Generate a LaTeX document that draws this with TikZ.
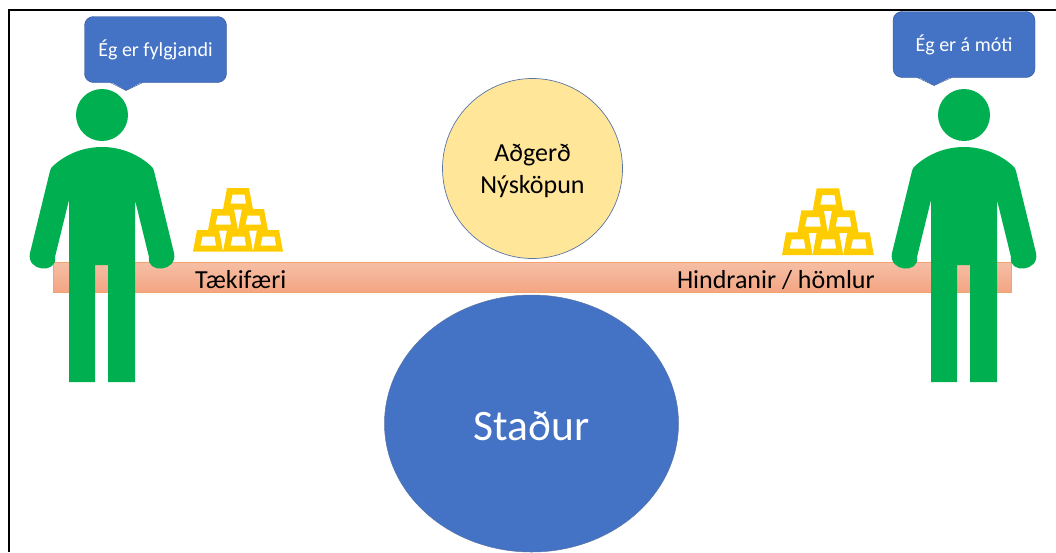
\documentclass[tikz,border=0pt]{standalone}
\usepackage{fontspec}
\setmainfont{Carlito}
\usetikzlibrary{shapes.geometric}
\definecolor{figgreen}{HTML}{00B050}
\definecolor{bubbleblue}{HTML}{4472C4}
\definecolor{bubbleedge}{HTML}{2F528F}
\definecolor{goldbar}{HTML}{FFCC00}
\definecolor{boardtop}{HTML}{F5BFA6}
\definecolor{boardbottom}{HTML}{F4A582}
\definecolor{boardedge}{HTML}{F4A26E}
\definecolor{actionfill}{HTML}{FFE699}
\tikzset{
    bubble/.style={draw=bubbleedge,fill=bubbleblue,rounded corners=9pt,minimum width=142pt,minimum height=66pt,inner sep=0pt},
    bubbletext/.style={text=white,font=\fontsize{20}{22}\selectfont,inner sep=0pt,anchor=base},
    boardlabel/.style={font=\fontsize{26}{28}\selectfont,inner sep=0pt},
    person/.pic={
        \fill[figgreen] (0,-32) circle (26);
        \fill[figgreen] (0,0) .. controls (-20,0) and (-37,8) .. (-49,19) .. controls (-50.5,20) and (-51.5,22) .. (-52,24) -- (-72,106) .. controls (-76,125) and (-44,127) .. (-47,110) -- (-33,53) -- (-33,235) -- (-7,235) -- (-7,118) -- (6,118) -- (6,235) -- (33,235) -- (33,53) -- (47,110) .. controls (44,127) and (76,125) .. (72,106) -- (52,24) .. controls (51.5,22) and (50.5,20) .. (49,19) .. controls (37,8) and (20,0) .. (0,0) -- cycle;
    },
    goldstack/.pic={
        \foreach \x/\y in {0/0,30/0,60/0,15/21,45/21,30/42}{
            \fill[goldbar,even odd rule] (\x,-\y) -- (\x+30,-\y) -- (\x+26,-\y-21.5) -- (\x+4,-\y-21.5) -- cycle
                (\x+7.5,-\y-6) -- (\x+23,-\y-6) -- (\x+21.5,-\y-15) -- (\x+9.5,-\y-15) -- cycle;
        }
    }
}

\begin{document}
\begin{tikzpicture}[x=1pt,y=-1pt]
    \useasboundingbox (0,0) rectangle (1056,552);
    \clip (0,0) rectangle (1056,552);
    \draw[line width=2pt] (8.5,552) -- (8.5,10) -- (1056,10);
    % board
    \node[draw=boardedge,top color=boardtop,bottom color=boardbottom,minimum width=958pt,minimum height=30pt,inner sep=0pt,line width=.5pt] (board) at (532,277) {};
    \node[boardlabel,anchor=base west] (gain) at (195,288) {Tækifæri};
    \node[boardlabel,anchor=base east] (block) at (875,288) {Hindranir / hömlur};
    % circles
    \node[circle,draw=bubbleedge!80,fill=actionfill,minimum size=180pt,inner sep=0pt,line width=.7pt] (action) at (532.5,168.5) {};
    \node[align=center,inner sep=0pt,font=\fontsize{26}{32}\selectfont,yshift=-2.5pt] (actiontext) at (action) {Aðgerð\\Nýsköpun};
    \node[ellipse,draw=bubbleedge!80,fill=bubbleblue,minimum width=294pt,minimum height=257pt,inner sep=0pt,line width=.5pt] (place) at (531.5,423.5) {};
    \node[text=white,font=\fontsize{43.5}{46}\selectfont,inner sep=0pt,anchor=base] (placename) at (531.5,440) {Staður};
    % people
    \pic at (102,147) {person};
    \pic at (964,147) {person};
    % gold
    \pic at (193,251.5) {goldstack};
    \pic[xscale=1.02,yscale=1.05] at (782,255) {goldstack};
    % speech
    \node[bubble] (fan) at (155.5,49.5) {};
    \fill[bubbleblue] (110,81.5) -- (126,90.5) -- (143,81.5) -- cycle;
    \draw[bubbleedge] (110,82.5) -- (126,90.5) -- (143,82.5);
    \node[bubbletext] (fantext) at (fan |- 0,56) {Ég er fylgjandi};
    \node[bubble] (foe) at (964,44.5) {};
    \fill[bubbleblue] (917,76.5) -- (934,85.5) -- (952,76.5) -- cycle;
    \draw[bubbleedge] (917,77.5) -- (934,85.5) -- (952,77.5);
    \node[bubbletext] (foetext) at (foe |- 0,51) {Ég er á móti};
\end{tikzpicture}
\end{document}
